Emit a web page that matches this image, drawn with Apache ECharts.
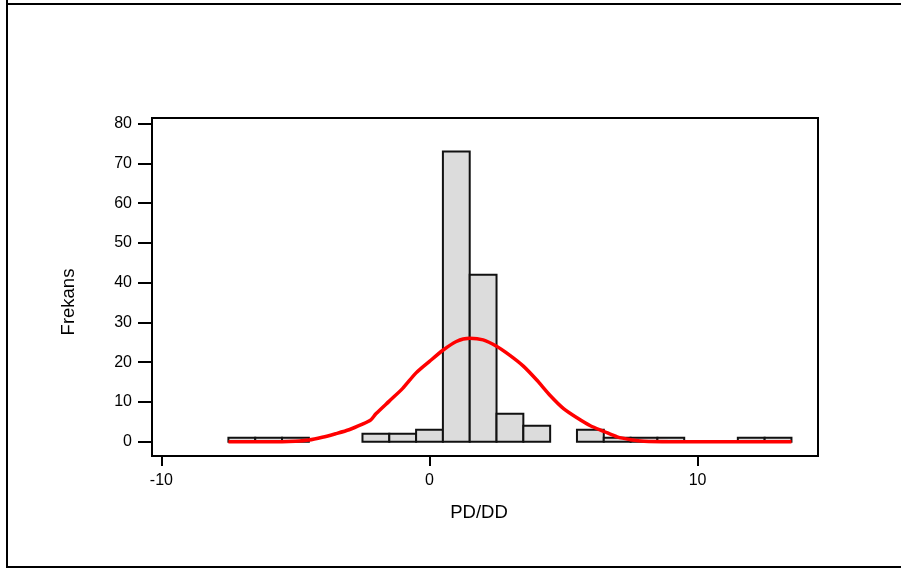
<!DOCTYPE html>
<html>
<head>
<meta charset="utf-8">
<script src="https://cdn.jsdelivr.net/npm/echarts@6/dist/echarts.min.js"></script>
<style>html,body{margin:0;padding:0;background:#fff}#c{width:901px;height:569px}</style>
</head>
<body>
<div id="c"></div>
<script>
// ---- data ----
const binCenters = [-7,-6,-5,-4,-3,-2,-1,0,1,2,3,4,5,6,7,8,9,10,11,12,13];
const binCounts  = [ 1, 1, 1, 0, 0, 2, 2,3,73,42,7,4,0,3,1,1,1,0,0,1,1];
const binWidth = 1;
const curveX = [-7.5,-6.5,-5.5,-5.0,-4.5,-4.0,-3.5,-3.0,-2.5,-2.2,-2.0,-1.5,-1.0,-0.5,0.0,0.5,1.0,1.5,2.0,2.5,3.0,3.5,4.0,4.5,5.0,5.5,6.0,6.5,7.0,7.5,8.0,9.0,10.0,11.0,12.0,13.0,13.5];
const curveY = [0,0,0,0.1,0.4,1.1,2.0,3.0,4.4,5.4,7.0,10.2,13.4,17.3,20.2,23.0,25.2,26.0,25.6,24.0,21.7,19.0,15.5,11.6,8.3,6.0,4.0,2.6,1.2,0.5,0.1,0,0,0,0,0,0];
const xTicks = [-10,0,10];
const yTicks = [0,10,20,30,40,50,60,70,80];
const xTitle = 'PD/DD';
const yTitle = 'Frekans';

const chart = echarts.init(document.getElementById('c'), null, {renderer:'canvas'});
const bars = binCenters.map((c,i)=>[c, binCounts[i]]).filter(d=>d[1]>0);
const curve = curveX.map((x,i)=>[x, curveY[i]]);
const font = 'Liberation Sans, Arial, sans-serif';

chart.setOption({
  animation:false,
  backgroundColor:'#fff',
  grid:{left:152, top:118, width:666, height:338, show:true, borderColor:'#000', borderWidth:2, backgroundColor:'transparent'},
  xAxis:{
    type:'value', min:-10.35, max:14.49,
    axisLine:{show:true, onZero:false, lineStyle:{color:'#000', width:2}},
    axisTick:{show:true, length:10, lineStyle:{color:'#000', width:2}, customValues:xTicks},
    axisLabel:{color:'#000', fontSize:16, fontFamily:font, margin:17, customValues:xTicks},
    splitLine:{show:false}
  },
  yAxis:{
    type:'value', min:-3.6, max:81.4,
    axisLine:{show:true, onZero:false, lineStyle:{color:'#000', width:2}},
    axisTick:{show:true, length:14, lineStyle:{color:'#000', width:2}, customValues:yTicks},
    axisLabel:{color:'#000', fontSize:16, fontFamily:font, margin:20, customValues:yTicks},
    splitLine:{show:false}
  },
  graphic:[
    {type:'line', shape:{x1:7,y1:0,x2:7,y2:568}, style:{stroke:'#000', lineWidth:2}},
    {type:'line', shape:{x1:6,y1:4,x2:901,y2:4}, style:{stroke:'#000', lineWidth:2}},
    {type:'line', shape:{x1:6,y1:567,x2:901,y2:567}, style:{stroke:'#000', lineWidth:2}},
    {type:'text', x:479, y:513, style:{text:xTitle, font:'18.5px '+font, fill:'#000', textAlign:'center', textVerticalAlign:'middle'}},
    {type:'text', x:69, y:302, rotation:Math.PI/2, style:{text:yTitle, font:'18.5px '+font, fill:'#000', textAlign:'center', textVerticalAlign:'middle'}}
  ],
  series:[
    {
      type:'custom',
      data:bars,
      renderItem:function(params, api){
        const c = api.value(0), v = api.value(1);
        const p0 = api.coord([c - binWidth/2, 0]);
        const p1 = api.coord([c + binWidth/2, v]);
        return {type:'rect', shape:{x:p0[0], y:p1[1], width:p1[0]-p0[0], height:p0[1]-p1[1]},
                style:{fill:'#dcdcdc', stroke:'#111', lineWidth:2}};
      },
      z:2
    },
    {
      type:'line', data:curve, showSymbol:false, smooth:0.25,
      lineStyle:{color:'#ff0000', width:3.5}, z:3
    }
  ]
});
</script>
</body>
</html>
